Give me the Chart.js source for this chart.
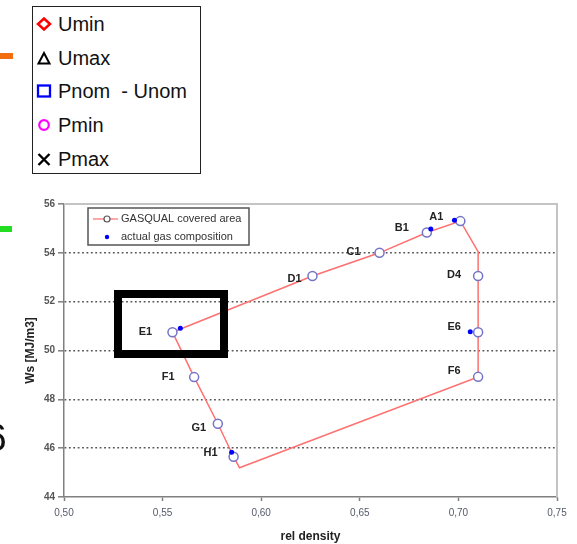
<!DOCTYPE html>
<html>
<head>
<meta charset="utf-8">
<script src="https://cdn.jsdelivr.net/npm/chart.js@4/dist/chart.umd.min.js"></script>
<style>
  body { margin: 0; background: #fff; font-family: "Liberation Sans", Arial, sans-serif; }
  #wrap { position: relative; width: 577px; height: 544px; overflow: hidden; }
  #chartBox { position: absolute; left: 0; top: 0; width: 577px; height: 544px; }
  #keyBox { position: absolute; left: 32px; top: 6px; width: 169px; height: 168px;
            border: 1.5px solid #222; box-sizing: border-box; background: #fff; }
  .row { position: absolute; left: 0; height: 24px; font-size: 20px; color: #111; line-height: 24px; }
  .row svg { position: absolute; left: 3px; top: 5px; }
  .row span { position: absolute; left: 25px; white-space: nowrap; }
  .frag { position: absolute; }
  #focus { position: absolute; left: 114px; top: 290px; width: 114px; height: 68px;
           border: 8px solid #000; box-sizing: border-box; }
</style>
</head>
<body>
<div id="wrap">
  <div id="chartBox"><canvas id="wsChart"></canvas></div>

  <div class="frag" style="left:0;top:53px;width:13px;height:6px;background:#f26d0f"></div>
  <div class="frag" style="left:0;top:226px;width:12px;height:6px;background:#22dd22"></div>
  <div class="frag" style="left:-15px;top:418px;font-size:39px;line-height:40px;color:#111">6</div>

  <div id="keyBox">
    <div class="row" style="top:5px">
      <svg width="16" height="14"><path d="M8 1.5 L14 7 L8 12.5 L2 7 Z" fill="none" stroke="#ff0000" stroke-width="2.5"/></svg>
      <span>Umin</span>
    </div>
    <div class="row" style="top:39px">
      <svg width="16" height="14"><path d="M8 2 L13.5 12.5 L2.5 12.5 Z" fill="none" stroke="#000" stroke-width="2"/></svg>
      <span>Umax</span>
    </div>
    <div class="row" style="top:72px">
      <svg width="16" height="14"><rect x="2" y="1.5" width="12" height="11" fill="none" stroke="#0000ff" stroke-width="2.3"/></svg>
      <span>Pnom&nbsp; - Unom</span>
    </div>
    <div class="row" style="top:106px">
      <svg width="16" height="14"><circle cx="8" cy="7" r="4.8" fill="none" stroke="#ff00ff" stroke-width="2.2"/></svg>
      <span>Pmin</span>
    </div>
    <div class="row" style="top:140px">
      <svg width="16" height="14"><path d="M2.5 2 L13.5 13 M13.5 2 L2.5 13" stroke="#000" stroke-width="2.4"/></svg>
      <span>Pmax</span>
    </div>
  </div>

  <div id="focus"></div>
</div>

<script>
// GASQUAL covered area, outline in drawing order ('' = corner without marker)
const areaNames = ['E1', 'D1', 'C1', 'B1', 'A1', '', 'D4', 'E6', 'F6', '', 'H1', 'G1', 'F1', ''];
const areaRelDensity = [0.555, 0.626, 0.660, 0.684, 0.701, 0.710, 0.710, 0.710, 0.710, 0.589, 0.586, 0.578, 0.566, 0.555];
const areaWobbe = [50.75, 53.05, 54.0, 54.83, 55.3, 54.05, 53.05, 50.75, 48.92, 45.2, 45.65, 47.0, 48.91, 50.75];

// actual gas compositions
const gasRelDensity = [0.559, 0.686, 0.698, 0.706, 0.585];
const gasWobbe = [50.91, 54.98, 55.33, 50.77, 45.83];

const xTicks = [0.50, 0.55, 0.60, 0.65, 0.70, 0.75];
const yTicks = [44, 46, 48, 50, 52, 54, 56];

// label offsets (px) from the point, same order as areaNames
const labelOffsets = [[-27, 0], [-18, 3], [-26, -1], [-25, -5], [-24, -4], null,
                      [-24, -1], [-24, -5], [-24, -6], null, [-23, -4], [-19, 4], [-26, 0], null];

const areaPoints = areaRelDensity.map((x, i) => ({ x: x, y: areaWobbe[i] }));
const gasPoints = gasRelDensity.map((x, i) => ({ x: x, y: gasWobbe[i] }));

const pointLabels = {
  id: 'pointLabels',
  afterDatasetsDraw(chart) {
    const { ctx, scales } = chart;
    ctx.save();
    ctx.font = 'bold 11px "Liberation Sans", Arial, sans-serif';
    ctx.fillStyle = '#222';
    ctx.textAlign = 'center';
    ctx.textBaseline = 'middle';
    areaNames.forEach((name, i) => {
      if (!name) return;
      const px = scales.x.getPixelForValue(areaRelDensity[i]);
      const py = scales.y.getPixelForValue(areaWobbe[i]);
      ctx.fillText(name, px + labelOffsets[i][0], py + labelOffsets[i][1]);
    });
    ctx.restore();
  }
};

const frameAndKey = {
  id: 'frameAndKey',
  afterDraw(chart) {
    const { ctx, chartArea: a } = chart;
    ctx.save();
    // top and right frame
    ctx.strokeStyle = '#c4c4c4';
    ctx.lineWidth = 2;
    ctx.beginPath();
    ctx.moveTo(a.left, a.top);
    ctx.lineTo(a.right, a.top);
    ctx.lineTo(a.right, a.bottom);
    ctx.stroke();

    // inner legend
    const lx = a.left + 24, ly = a.top + 4;
    ctx.fillStyle = '#fff';
    ctx.fillRect(lx, ly, 161, 37);
    ctx.strokeStyle = '#555';
    ctx.lineWidth = 1.5;
    ctx.strokeRect(lx, ly, 161, 37);
    ctx.strokeStyle = '#ff7777';
    ctx.lineWidth = 1.3;
    ctx.beginPath();
    ctx.moveTo(lx + 5, ly + 11);
    ctx.lineTo(lx + 30, ly + 11);
    ctx.stroke();
    ctx.fillStyle = '#fff';
    ctx.strokeStyle = '#555';
    ctx.lineWidth = 1.2;
    ctx.beginPath();
    ctx.arc(lx + 19, ly + 11, 3, 0, Math.PI * 2);
    ctx.fill();
    ctx.stroke();
    ctx.fillStyle = '#0000ff';
    ctx.beginPath();
    ctx.arc(lx + 19, ly + 29, 2.2, 0, Math.PI * 2);
    ctx.fill();
    ctx.font = '11px "Liberation Sans", Arial, sans-serif';
    ctx.fillStyle = '#333';
    ctx.textAlign = 'left';
    ctx.textBaseline = 'middle';
    ctx.fillText('GASQUAL covered area', lx + 33, ly + 11);
    ctx.fillText('actual gas composition', lx + 33, ly + 29);
    ctx.restore();
  }
};

const ctx = document.getElementById('wsChart').getContext('2d');
const wsChart = new Chart(ctx, {
  type: 'scatter',
  data: {
    datasets: [{
      label: 'GASQUAL covered area',
      data: areaPoints,
      showLine: true,
      borderColor: '#ff7070',
      borderWidth: 1.5,
      pointRadius: areaNames.map(n => n ? 4.5 : 0),
      pointBorderColor: '#7474c8',
      pointBackgroundColor: '#fff',
      pointBorderWidth: 1.5,
      order: 2
    }, {
      label: 'actual gas composition',
      data: gasPoints,
      showLine: false,
      pointRadius: 2.5,
      pointBorderWidth: 0,
      pointBackgroundColor: '#0000ff',
      order: 1
    }]
  },
  options: {
    responsive: true,
    maintainAspectRatio: false,
    animation: false,
    layout: { padding: { top: 204, right: 20, left: 0, bottom: 0 } },
    plugins: {
      legend: { display: false },
      tooltip: { enabled: false }
    },
    scales: {
      x: {
        type: 'linear',
        min: 0.5,
        max: 0.75,
        afterBuildTicks: (scale) => { scale.ticks = xTicks.map(v => ({ value: v })); },
        afterFit: (scale) => { scale.height = 47; },
        ticks: {
          callback: (v) => v.toFixed(2).replace('.', ','),
          font: { size: 10, family: '"Liberation Sans", Arial' },
          color: '#555a6a',
          padding: 6,
          maxRotation: 0
        },
        grid: { drawOnChartArea: false, tickLength: 4, tickColor: '#808080', tickWidth: 1.5 },
        border: { color: '#808080', width: 1.5 },
        title: {
          display: true,
          text: 'rel density',
          font: { size: 12, weight: 'bold', family: '"Liberation Sans", Arial' },
          color: '#222',
          padding: { top: 0, bottom: 0 }
        }
      },
      y: {
        min: 44,
        max: 56,
        afterBuildTicks: (scale) => { scale.ticks = yTicks.map(v => ({ value: v })); },
        afterFit: (scale) => { scale.width = 64; },
        ticks: {
          font: { size: 10, weight: 'bold', family: '"Liberation Sans", Arial' },
          color: '#555',
          padding: 3
        },
        grid: {
          color: (c) => (c.tick && (c.tick.value === 44 || c.tick.value === 56)) ? 'rgba(0,0,0,0)' : '#555',
          lineWidth: 1.6,
          tickLength: 6,
          tickColor: '#808080',
          tickWidth: 1.5,
          tickBorderDash: []
        },
        border: { color: '#808080', width: 1.5, dash: [1.8, 2.6] },
        title: {
          display: true,
          text: 'Ws [MJ/m3]',
          font: { size: 12, weight: 'bold', family: '"Liberation Sans", Arial' },
          color: '#222',
          padding: { top: 23, bottom: 0 }
        }
      }
    }
  },
  plugins: [pointLabels, frameAndKey]
});
</script>
</body>
</html>
